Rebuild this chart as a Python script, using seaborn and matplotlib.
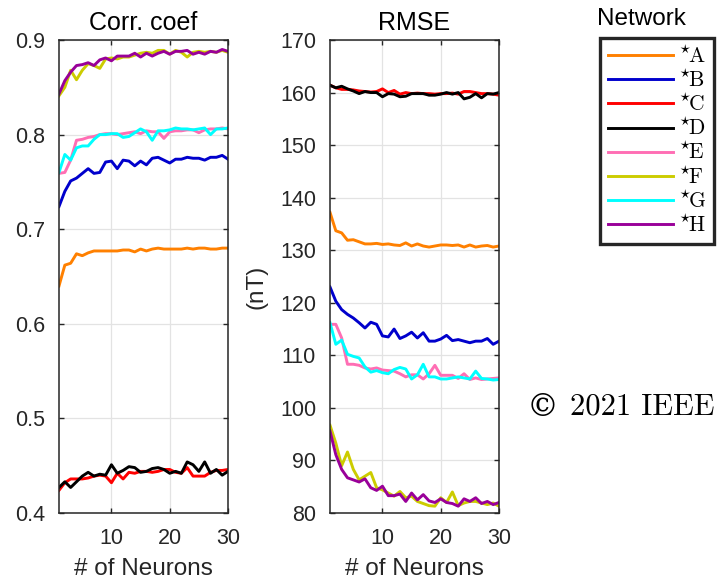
import matplotlib
matplotlib.use("Agg")
import matplotlib.pyplot as plt
import seaborn as sns
import pandas as pd

neurons = list(range(1, 31))
networks = ["A", "B", "C", "D", "E", "F", "G", "H"]
colors = ["#FF8000", "#0000CC", "#FF0000", "#000000", "#FF6EB4", "#CCCC00", "#00FFFF", "#990099"]

corr_A = [0.640, 0.662, 0.664, 0.674, 0.672, 0.675, 0.677, 0.677, 0.677, 0.677, 0.677, 0.678, 0.678, 0.676, 0.679,
          0.677, 0.679, 0.680, 0.679, 0.679, 0.679, 0.679, 0.680, 0.679, 0.680, 0.680, 0.679, 0.679, 0.680, 0.680]
corr_B = [0.724, 0.740, 0.751, 0.754, 0.759, 0.764, 0.759, 0.760, 0.771, 0.772, 0.764, 0.773, 0.772, 0.767, 0.772,
          0.768, 0.775, 0.776, 0.773, 0.770, 0.774, 0.774, 0.776, 0.775, 0.775, 0.773, 0.776, 0.776, 0.778, 0.774]
corr_C = [0.424, 0.432, 0.436, 0.436, 0.436, 0.437, 0.439, 0.440, 0.439, 0.432, 0.442, 0.436, 0.443, 0.442, 0.444,
          0.444, 0.443, 0.444, 0.446, 0.446, 0.443, 0.442, 0.448, 0.439, 0.439, 0.439, 0.443, 0.445, 0.445, 0.446]
corr_D = [0.427, 0.433, 0.427, 0.433, 0.439, 0.443, 0.439, 0.441, 0.440, 0.451, 0.442, 0.445, 0.449, 0.448, 0.443,
          0.444, 0.447, 0.448, 0.446, 0.442, 0.444, 0.442, 0.454, 0.451, 0.444, 0.454, 0.442, 0.446, 0.440, 0.444]
corr_E = [0.759, 0.760, 0.773, 0.794, 0.795, 0.797, 0.798, 0.800, 0.801, 0.801, 0.800, 0.801, 0.802, 0.803, 0.801,
          0.804, 0.803, 0.803, 0.796, 0.803, 0.804, 0.804, 0.805, 0.805, 0.802, 0.805, 0.806, 0.806, 0.807, 0.806]
corr_F = [0.841, 0.850, 0.868, 0.858, 0.868, 0.875, 0.873, 0.870, 0.880, 0.881, 0.880, 0.882, 0.882, 0.884, 0.886,
          0.887, 0.886, 0.889, 0.889, 0.885, 0.889, 0.887, 0.882, 0.887, 0.888, 0.887, 0.888, 0.887, 0.889, 0.887]
corr_G = [0.760, 0.779, 0.773, 0.786, 0.788, 0.788, 0.795, 0.800, 0.800, 0.801, 0.801, 0.797, 0.798, 0.802, 0.806,
          0.803, 0.794, 0.804, 0.804, 0.805, 0.807, 0.806, 0.806, 0.805, 0.806, 0.807, 0.800, 0.806, 0.806, 0.807]
corr_H = [0.843, 0.857, 0.866, 0.873, 0.874, 0.876, 0.873, 0.879, 0.881, 0.878, 0.883, 0.883, 0.883, 0.886, 0.882,
          0.886, 0.883, 0.886, 0.888, 0.885, 0.888, 0.888, 0.889, 0.885, 0.887, 0.885, 0.888, 0.887, 0.890, 0.888]

rmse_A = [137.2, 133.7, 133.3, 131.9, 132.0, 131.6, 131.2, 131.2, 131.3, 131.1, 131.2, 131.0, 130.9, 131.4, 130.8,
          131.2, 130.8, 130.6, 130.8, 131.0, 131.0, 130.9, 131.0, 130.6, 131.0, 130.6, 130.8, 130.9, 130.6, 130.8]
rmse_B = [123.0, 120.3, 118.7, 117.8, 117.1, 116.2, 115.2, 116.3, 115.9, 113.7, 113.5, 115.0, 113.2, 113.7, 114.4,
          113.3, 114.3, 112.7, 112.7, 113.1, 113.8, 112.8, 113.0, 112.7, 112.4, 112.7, 112.7, 113.2, 112.1, 112.7]
rmse_C = [161.4, 160.9, 160.6, 160.6, 160.5, 160.3, 160.2, 160.1, 160.2, 160.7, 160.0, 160.4, 159.7, 160.0, 159.8,
          159.9, 159.8, 159.8, 159.7, 159.8, 159.8, 159.9, 159.7, 160.2, 160.2, 160.0, 159.8, 159.8, 159.7, 159.5]
rmse_D = [161.4, 160.9, 161.2, 160.7, 160.3, 159.8, 160.2, 160.0, 160.0, 159.2, 159.8, 159.7, 159.2, 159.3, 159.8,
          159.8, 159.8, 159.5, 159.5, 159.7, 160.0, 159.7, 160.0, 158.8, 159.1, 159.8, 159.0, 159.8, 159.7, 160.0]
rmse_E = [115.9, 115.9, 113.3, 108.3, 108.3, 108.1, 107.6, 107.4, 107.6, 107.2, 107.1, 107.0, 106.5, 105.9, 106.3,
          106.3, 105.5, 106.5, 108.1, 106.2, 106.2, 106.2, 105.6, 106.5, 105.4, 105.7, 105.4, 105.5, 105.6, 105.7]
rmse_F = [96.7, 93.3, 89.0, 91.6, 88.3, 86.3, 87.0, 87.7, 84.8, 84.4, 83.8, 83.2, 84.1, 82.9, 83.2,
          82.2, 81.8, 81.4, 81.3, 82.9, 82.0, 84.0, 81.4, 81.9, 82.2, 82.2, 81.9, 81.6, 81.9, 81.3]
rmse_G = [116.2, 112.1, 112.9, 110.2, 109.8, 109.5, 107.8, 106.8, 107.1, 106.7, 106.5, 107.3, 107.7, 107.4, 105.5,
          106.3, 108.3, 105.9, 105.9, 105.5, 105.5, 105.7, 105.9, 105.7, 105.5, 107.0, 105.6, 105.5, 105.3, 105.4]
rmse_H = [95.6, 91.1, 88.3, 86.7, 86.3, 85.9, 86.5, 84.8, 84.3, 85.1, 83.3, 83.3, 83.6, 82.2, 83.8,
          82.5, 83.5, 82.3, 82.0, 82.7, 82.0, 81.8, 81.3, 82.7, 82.2, 82.9, 81.8, 82.2, 81.6, 82.0]

corr_all = [corr_A, corr_B, corr_C, corr_D, corr_E, corr_F, corr_G, corr_H]
rmse_all = [rmse_A, rmse_B, rmse_C, rmse_D, rmse_E, rmse_F, rmse_G, rmse_H]

rows = []
for name, cvals, rvals in zip(networks, corr_all, rmse_all):
    for n, c, r in zip(neurons, cvals, rvals):
        rows.append({"Network": name, "Neurons": n, "Corr": c, "RMSE": r})
df = pd.DataFrame(rows)

plt.rcParams["font.family"] = ["Liberation Sans", "DejaVu Sans"]
plt.rcParams["mathtext.fontset"] = "cm"

fig = plt.figure(figsize=(7.19, 5.83), dpi=100)
ax1 = fig.add_axes([59 / 719, 1 - 513 / 583, 169 / 719, 473 / 583])
ax2 = fig.add_axes([330 / 719, 1 - 513 / 583, 169 / 719, 473 / 583])

tick_col = "#262626"
for ax, col, title in [(ax1, "Corr", "Corr. coef"), (ax2, "RMSE", "RMSE")]:
    sns.lineplot(data=df, x="Neurons", y=col, hue="Network", hue_order=networks,
                 palette=colors, ax=ax, legend=False, linewidth=2.1, estimator=None)
    ax.set_xlim(1, 30)
    ax.set_xticks([10, 20, 30])
    ax.set_title(title, fontsize=18, pad=7, color="black")
    ax.set_xlabel("# of Neurons", fontsize=17.5, labelpad=6, color=tick_col)
    ax.set_ylabel("")
    ax.grid(True, color="#e3e3e3", linewidth=0.9)
    ax.set_axisbelow(True)
    ax.tick_params(direction="in", top=True, right=True, length=3.5, width=1,
                   labelsize=15.5, colors=tick_col)
    ax.tick_params(axis="x", pad=11)
    ax.tick_params(axis="y", pad=10)
    for s in ax.spines.values():
        s.set_color(tick_col)
        s.set_linewidth(1.1)

ax1.set_ylim(0.4, 0.9)
ax1.set_yticks([0.4, 0.5, 0.6, 0.7, 0.8, 0.9])
ax1.set_yticklabels(["0.4", "0.5", "0.6", "0.7", "0.8", "0.9"])
ax2.set_ylim(80, 170)
ax2.set_yticks(list(range(80, 171, 10)))
ax2.set_ylabel("(nT)", fontsize=17.5, color=tick_col)
ax2.yaxis.set_label_coords(-0.37, 0.478)

handles = ax1.get_lines()[:len(networks)]
labels = [r"$^{\star}\!\mathrm{" + n + "}$" for n in networks]
leg = fig.legend(handles, labels, loc="upper left", bbox_to_anchor=(600 / 719, 1 - 38 / 583),
                 borderaxespad=0, frameon=True, fancybox=False, framealpha=1,
                 edgecolor=tick_col, prop={"size": 15.5},
                 handlelength=3.05, handletextpad=0.28, labelspacing=0.1, borderpad=0.35)
leg.get_frame().set_linewidth(2.4)
for line in leg.get_lines():
    line.set_linewidth(2.1)

fig.text(641 / 719, 1 - 19 / 583, "Network", fontsize=17.5, ha="center", va="center", color="black")
fig.text(527 / 719, 1 - 407 / 583, "\u00a9", fontsize=23, ha="left", va="center",
         family=["DejaVu Serif"], color="black")
fig.text(570 / 719, 1 - 407 / 583, "2021 IEEE", fontsize=22, ha="left", va="center",
         family=["cmr10", "DejaVu Serif"], color="black")

fig.savefig("out.png", dpi=100)
